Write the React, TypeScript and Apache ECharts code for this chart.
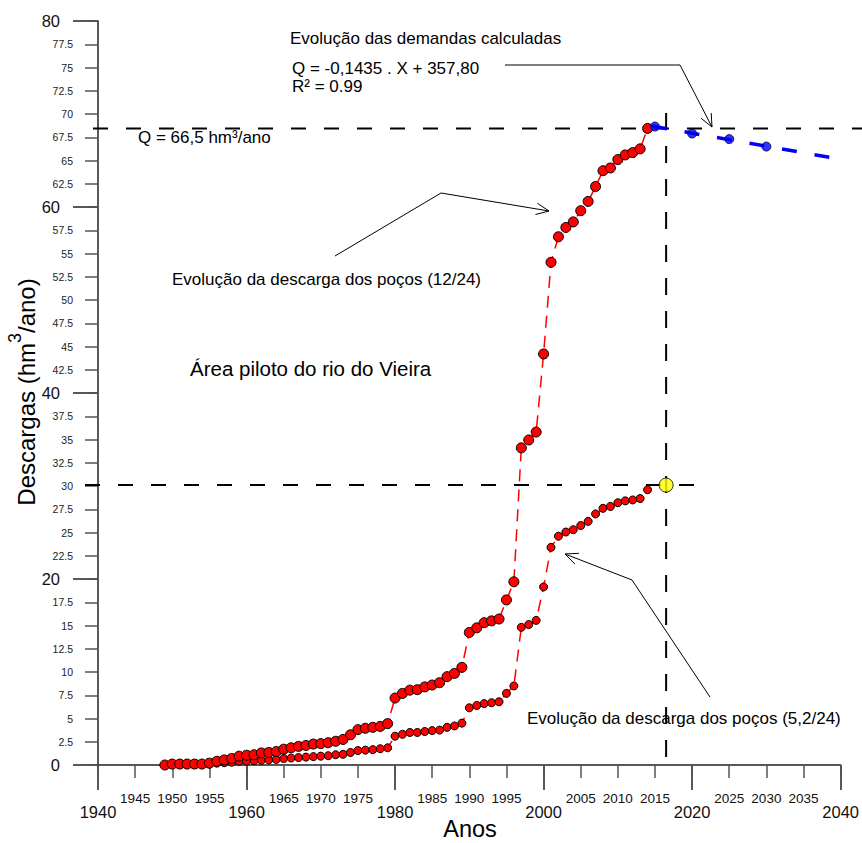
import React, { useEffect, useRef } from "react";
import * as echarts from "echarts";

// ---- data ----
const years = [
  1949, 1950, 1951, 1952, 1953, 1954, 1955, 1956, 1957, 1958, 1959,
  1960, 1961, 1962, 1963, 1964, 1965, 1966, 1967, 1968, 1969,
  1970, 1971, 1972, 1973, 1974, 1975, 1976, 1977, 1978, 1979,
  1980, 1981, 1982, 1983, 1984, 1985, 1986, 1987, 1988, 1989,
  1990, 1991, 1992, 1993, 1994, 1995, 1996, 1997, 1998, 1999,
  2000, 2001, 2002, 2003, 2004, 2005, 2006, 2007, 2008, 2009,
  2010, 2011, 2012, 2013, 2014,
];

// Evolução da descarga dos poços (12/24)
const wells12 = [
  0, 0.1, 0.1, 0.1, 0.1, 0.1, 0.2, 0.4, 0.55, 0.7, 0.95,
  1.05, 1.1, 1.3, 1.35, 1.45, 1.7, 1.85, 2.0, 2.1, 2.25,
  2.3, 2.4, 2.55, 2.75, 3.25, 3.8, 3.95, 4.05, 4.15, 4.45,
  7.2, 7.7, 8.05, 8.1, 8.4, 8.6, 8.85, 9.5, 9.85, 10.5,
  14.25, 14.75, 15.3, 15.5, 15.7, 17.75, 19.7, 34.1, 34.95, 35.8,
  44.2, 54.05, 56.8, 57.8, 58.4, 59.6, 60.6, 62.2, 63.9, 64.2,
  65.1, 65.6, 65.85, 66.25, 68.45,
];

// Evolução da descarga dos poços (5,2/24)
const wells52 = [
  0, 0.07, 0.1, 0.1, 0.1, 0.1, 0.1, 0.2, 0.25, 0.3, 0.4,
  0.4, 0.45, 0.5, 0.55, 0.6, 0.7, 0.75, 0.8, 0.85, 0.9,
  0.95, 1.0, 1.1, 1.15, 1.35, 1.55, 1.6, 1.65, 1.75, 1.85,
  3.1, 3.3, 3.5, 3.5, 3.6, 3.7, 3.75, 4.05, 4.2, 4.5,
  6.15, 6.4, 6.6, 6.7, 6.8, 7.7, 8.5, 14.8, 15.1, 15.55,
  19.15, 23.4, 24.6, 25.05, 25.3, 25.75, 26.2, 27.0, 27.6, 27.8,
  28.2, 28.4, 28.5, 28.65, 29.6,
];

// Evolução das demandas calculadas
const demandYears = [2015, 2020, 2025, 2030];
const demandValues = [68.65, 67.9, 67.3, 66.5];
const trendYears = [2014.6, 2038.8];
const trendValues = [68.7, 65.3];

// Área piloto point
const pilotYear = [2016.5];
const pilotValue = [30.1];

// reference lines
const refDemand = 68.45;
const refPilot = 30.1;
const refYear = 2016.5;

const FONT = "Liberation Sans, Arial, sans-serif";

function arrow(pts: number[][]) {
  const n = pts.length;
  const [tx, ty] = pts[n - 1];
  const [sx, sy] = pts[n - 2];
  const a = Math.atan2(ty - sy, tx - sx);
  const L = 14;
  const h = 0.42;
  const w1 = [tx - L * Math.cos(a - h), ty - L * Math.sin(a - h)];
  const w2 = [tx - L * Math.cos(a + h), ty - L * Math.sin(a + h)];
  return [
    { type: "polyline", shape: { points: pts }, style: { stroke: "#000", lineWidth: 1, fill: null } },
    { type: "polyline", shape: { points: [w1, [tx, ty], w2] }, style: { stroke: "#000", lineWidth: 1, fill: null } },
  ];
}

function label(text: string, x: number, y: number, size = 17) {
  return {
    type: "text",
    x,
    y,
    style: { text, fontSize: size, fontFamily: FONT, fill: "#000", align: "left", verticalAlign: "middle" },
  };
}

export default function App() {
  const ref = useRef<HTMLDivElement>(null);

  useEffect(() => {
    const chart = echarts.init(ref.current!, null, { renderer: "svg" });

    const axisColor = "#222";
    const minorColor = "#555";

    chart.setOption({
      animation: false,
      backgroundColor: "#fff",
      textStyle: { fontFamily: FONT },
      grid: { left: 98, top: 21, width: 744, height: 744, containLabel: false },
      xAxis: [
        {
          type: "value", min: 1940, max: 2040, interval: 20, position: "bottom",
          axisLine: { show: true, onZero: false, lineStyle: { color: axisColor, width: 1.5 } },
          axisTick: { show: true, length: 25, lineStyle: { color: axisColor, width: 1.5 } },
          axisLabel: { fontSize: 16.5, color: "#111", margin: 38, fontFamily: FONT, formatter: (v: number) => String(v) },
          splitLine: { show: false },
        },
        {
          type: "value", min: 1940, max: 2040, interval: 5, position: "bottom",
          axisLine: { show: false, onZero: false },
          axisTick: { show: true, length: 13, lineStyle: { color: minorColor, width: 1.5 } },
          axisLabel: {
            fontSize: 13.5, color: "#111", margin: 26, fontFamily: FONT,
            formatter: (v: number) => (v % 20 === 0 ? "" : String(v)),
          },
          splitLine: { show: false },
        },
      ],
      yAxis: [
        {
          type: "value", min: 0, max: 80, interval: 20, position: "left",
          axisLine: { show: true, onZero: false, lineStyle: { color: axisColor, width: 1.5 } },
          axisTick: { show: true, length: 25, lineStyle: { color: axisColor, width: 1.5 } },
          axisLabel: { fontSize: 16.5, color: "#111", margin: 38, fontFamily: FONT },
          splitLine: { show: false },
        },
        {
          type: "value", min: 0, max: 80, interval: 2.5, position: "left",
          axisLine: { show: false, onZero: false },
          axisTick: { show: true, length: 13, lineStyle: { color: minorColor, width: 1.5 } },
          axisLabel: {
            fontSize: 10.5, color: "#222", margin: 25, fontFamily: FONT,
            formatter: (v: number) => (v % 20 === 0 ? "" : String(v)),
          },
          splitLine: { show: false },
        },
      ],
      series: [
        {
          name: "poços 5,2/24", type: "line", xAxisIndex: 0, yAxisIndex: 0,
          data: years.map((y, i) => [y, wells52[i]]),
          symbol: "circle", symbolSize: 8,
          itemStyle: { color: "#FF0000", borderColor: "#000", borderWidth: 1 },
          lineStyle: { color: "#FF0000", width: 1.5, type: [12, 8] },
          z: 3,
        },
        {
          name: "poços 12/24", type: "line", xAxisIndex: 0, yAxisIndex: 0,
          data: years.map((y, i) => [y, wells12[i]]),
          symbol: "circle", symbolSize: 10,
          itemStyle: { color: "#FF0000", borderColor: "#000", borderWidth: 1 },
          lineStyle: { color: "#FF0000", width: 1.5, type: [12, 8] },
          z: 4,
        },
        {
          name: "tendência", type: "line", xAxisIndex: 0, yAxisIndex: 0,
          data: trendYears.map((y, i) => [y, trendValues[i]]),
          symbol: "none",
          lineStyle: { color: "#0000FF", width: 3.5, type: [15, 18] },
          z: 5,
        },
        {
          name: "demandas", type: "scatter", xAxisIndex: 0, yAxisIndex: 0,
          data: demandYears.map((y, i) => [y, demandValues[i]]),
          symbol: "circle", symbolSize: 9,
          itemStyle: { color: "#0000FF", borderColor: "#000040", borderWidth: 1 },
          z: 6,
        },
        {
          name: "piloto", type: "scatter", xAxisIndex: 0, yAxisIndex: 0,
          data: pilotYear.map((y, i) => [y, pilotValue[i]]),
          symbol: "circle", symbolSize: 14,
          itemStyle: { color: "#FFFF00", borderColor: "#000", borderWidth: 1 },
          z: 6,
        },
      ],
    });

    const toPx = (x: number, y: number) =>
      chart.convertToPixel({ xAxisIndex: 0, yAxisIndex: 0 }, [x, y]) as number[];
    const yD = toPx(1940, refDemand)[1];
    const yP = toPx(1940, refPilot)[1];
    const xV = toPx(refYear, 0)[0];

    const dash = { stroke: "#000", lineWidth: 2, lineDash: [15, 18] };

    chart.setOption({
      graphic: [
        { type: "line", shape: { x1: 93, y1: yD, x2: 862, y2: yD }, style: dash, z: 1 },
        { type: "line", shape: { x1: 85, y1: yP, x2: 700, y2: yP }, style: dash, z: 1 },
        { type: "line", shape: { x1: xV, y1: 113, x2: xV, y2: 757 }, style: { ...dash, lineDash: [17, 16] }, z: 1 },

        label("Evolução das demandas calculadas", 290, 38),
        label("Q = -0,1435 . X + 357,80", 292, 68),
        label("R² = 0.99", 292, 86),
        label("Q = 66,5 hm³/ano", 138, 137),
        label("Evolução da descarga dos poços (12/24)", 172, 279),
        label("Área piloto do rio do Vieira", 190, 368, 20.5),
        label("Evolução da descarga dos poços (5,2/24)", 527, 718),

        ...arrow([[505, 65], [680, 65], [712, 127]]),
        ...arrow([[335, 256], [441, 193], [549, 211]]),
        ...arrow([[710, 697], [632, 580], [565, 554]]),

        {
          type: "text", x: 470, y: 829,
          style: { text: "Anos", fontSize: 23.5, fontFamily: FONT, fill: "#000", align: "center", verticalAlign: "middle" },
        },
        {
          type: "text", x: 22, y: 392, rotation: Math.PI / 2,
          style: {
            text: "{a|Descargas (hm}{s|3}{a|/ano)}",
            align: "center", verticalAlign: "middle",
            rich: {
              a: { fontSize: 24, fontFamily: FONT, fill: "#000", lineHeight: 32, verticalAlign: "bottom" },
              s: { fontSize: 18, fontFamily: FONT, fill: "#000", lineHeight: 18, verticalAlign: "top" },
            },
          },
        },
      ],
    });

    return () => chart.dispose();
  }, []);

  return (
    <div
      ref={ref}
      style={{ position: "absolute", left: 0, top: 0, width: 862, height: 843 }}
    />
  );
}
